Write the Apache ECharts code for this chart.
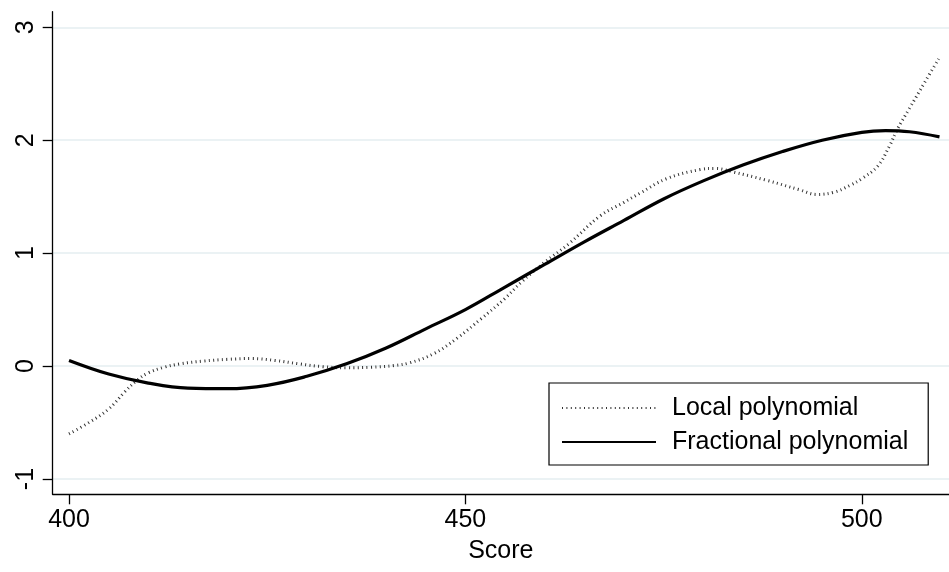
<!DOCTYPE html>
<html>
<head>
<meta charset="utf-8">
<script src="https://cdn.jsdelivr.net/npm/echarts@6/dist/echarts.min.js"></script>
<style>html,body{margin:0;padding:0;background:#fff;}#c{width:949px;height:572px;}</style>
</head>
<body>
<div id="c"></div>
<script>
// Local polynomial (dotted)
var lpX = [400, 402.5, 405, 407, 408.5, 410, 412, 414, 417, 420, 423, 426, 429, 432, 435, 438, 441, 443, 446, 449, 452, 455, 457, 460, 463, 467, 470, 472, 475.4, 479.6, 481.5, 483.7, 488, 492.2, 494.3, 496.5, 498.5, 500, 502, 503.5, 504.5, 506, 508, 509.7];
var lpY = [-0.60, -0.50, -0.38, -0.23, -0.13, -0.06, -0.01, 0.02, 0.045, 0.06, 0.067, 0.05, 0.02, -0.005, -0.015, -0.01, 0.005, 0.03, 0.11, 0.25, 0.42, 0.60, 0.74, 0.92, 1.08, 1.33, 1.45, 1.53, 1.66, 1.74, 1.75, 1.72, 1.645, 1.56, 1.52, 1.54, 1.60, 1.66, 1.77, 1.95, 2.10, 2.28, 2.52, 2.72];
// Fractional polynomial (solid)
var fpX = [400, 405, 410, 415, 420, 425, 430, 435, 440, 445, 450, 455, 460, 465, 470, 475, 480, 485, 490, 495, 500, 503, 506, 509.8];
var fpY = [0.05, -0.07, -0.15, -0.195, -0.20, -0.17, -0.09, 0.02, 0.16, 0.33, 0.50, 0.70, 0.90, 1.10, 1.29, 1.48, 1.64, 1.78, 1.90, 2.00, 2.07, 2.085, 2.075, 2.03];
var xTicks = [400, 450, 500];
var yTicks = [-1, 0, 1, 2, 3];
var seriesNames = ['Local polynomial', 'Fractional polynomial'];
var xTitle = 'Score';

function pairs(xs, ys) { return xs.map(function (x, i) { return [x, ys[i]]; }); }

var FONT = '"Liberation Sans", Arial, sans-serif';
var chart = echarts.init(document.getElementById('c'), null, { renderer: 'canvas' });
chart.setOption({
  animation: false,
  backgroundColor: '#ffffff',
  grid: { left: 52.7, right: 0, top: 11.7, bottom: 77.7, containLabel: false },
  xAxis: {
    type: 'value',
    min: 397.94,
    max: 511,
    name: xTitle,
    nameLocation: 'middle',
    nameGap: 44,
    nameTextStyle: { fontSize: 25, fontFamily: FONT, color: '#000' },
    axisLine: { show: true, onZero: false, lineStyle: { color: '#000', width: 1.3 } },
    axisTick: { show: true, length: 10, customValues: xTicks, lineStyle: { color: '#000', width: 1.3 } },
    axisLabel: { customValues: xTicks, fontSize: 25, fontFamily: FONT, color: '#000', margin: 13 },
    splitLine: { show: false }
  },
  yAxis: {
    type: 'value',
    min: -1.135,
    max: 3.138,
    axisLine: { show: true, onZero: false, lineStyle: { color: '#000', width: 1.3 } },
    axisTick: { show: true, length: 10, customValues: yTicks, lineStyle: { color: '#000', width: 1.3 } },
    axisLabel: { customValues: yTicks, rotate: 90, fontSize: 25, fontFamily: FONT, color: '#000', margin: 14 },
    splitLine: { show: true, lineStyle: { color: '#e4eef0', width: 1.5 } }
  },
  legend: {
    orient: 'vertical',
    left: 549,
    top: 383,
    padding: [10, 20, 8, 12],
    itemGap: 4,
    itemWidth: 94,
    itemHeight: 14,
    borderColor: '#000',
    borderWidth: 1.2,
    backgroundColor: '#fff',
    selectedMode: false,
    itemStyle: { opacity: 0, borderWidth: 0 },
    textStyle: { fontSize: 25, fontFamily: FONT, color: '#000', lineHeight: 30, padding: [0, 0, 0, 11] },
    data: seriesNames
  },
  series: [
    {
      name: seriesNames[0],
      type: 'line',
      data: pairs(lpX, lpY),
      smooth: 0.4,
      symbol: 'none',
      showSymbol: false,
      lineStyle: { color: '#333', width: 3, type: [1, 3.4], cap: 'butt' },
      z: 2
    },
    {
      name: seriesNames[1],
      type: 'line',
      data: pairs(fpX, fpY),
      smooth: 0.4,
      symbol: 'none',
      showSymbol: false,
      lineStyle: { color: '#000', width: 3.2, type: 'solid' },
      z: 3
    }
  ]
});
</script>
</body>
</html>
